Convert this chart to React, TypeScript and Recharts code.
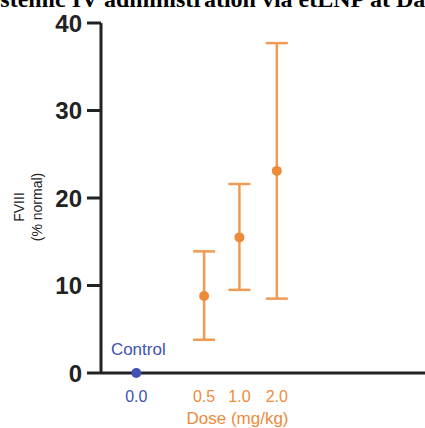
import React from "react";
import {
  ComposedChart,
  Scatter,
  XAxis,
  YAxis,
  ErrorBar,
  LabelList,
  Customized,
} from "recharts";

// Group labels along the dose axis
const doseLabels = ["0.0", "0.5", "1.0", "2.0"];
// FVIII activity, % of normal: group means and error-bar ends
const fviiiMean = [0, 8.8, 15.5, 23.1];
const fviiiLow = [0, 3.8, 9.5, 8.5];
const fviiiHigh = [0, 13.9, 21.6, 37.7];
const yTicks = [0, 10, 20, 30, 40];

// Horizontal slot of each group on the dose axis (control sits apart)
const slots = [1.01, 2.95, 3.96, 5.03];
const X_MAX = 9.27;

const BLUE = "#4052b5";
const ORANGE = "#ed8b3b";
const ORANGE_BAR = "#f09a52";
const INK = "#222222";
const SANS = "'Liberation Sans', Arial, Helvetica, sans-serif";

const controlData = [
  { x: slots[0], y: fviiiMean[0], name: "Control" },
];
const doseData = doseLabels.slice(1).map((_, i) => ({
  x: slots[i + 1],
  y: fviiiMean[i + 1],
  err: [fviiiMean[i + 1] - fviiiLow[i + 1], fviiiHigh[i + 1] - fviiiMean[i + 1]],
}));

const DoseTick = (props: any) => {
  const { x, y, payload } = props;
  const idx = slots.indexOf(payload.value);
  if (idx < 0) return null;
  return (
    <text
      x={x}
      y={y}
      dy={21}
      textAnchor="middle"
      fontFamily={SANS}
      fontSize={16}
      fill={idx === 0 ? BLUE : ORANGE}
    >
      {doseLabels[idx]}
    </text>
  );
};

const Dot = (color: string) => (props: any) => (
  <circle cx={props.cx} cy={props.cy} r={5} fill={color} />
);

const Decorations = () => (
  <g>
    <text
      x={-25}
      y={7}
      fontFamily="'Liberation Serif', 'Times New Roman', serif"
      fontWeight="bold"
      fontSize={24}
      fill="#000"
    >
      Systemic IV administration via etLNP at Day
    </text>
    <g fontFamily={SANS} fontSize={14} fill={INK} textAnchor="middle">
      <text x={24} y={207} transform="rotate(-90 24 207)">
        FVIII
      </text>
      <text x={42} y={207} transform="rotate(-90 42 207)">
        (% normal)
      </text>
    </g>
    <text
      x={237.5}
      y={424}
      textAnchor="middle"
      fontFamily={SANS}
      fontSize={17}
      fill={ORANGE}
    >
      Dose (mg/kg)
    </text>
  </g>
);

export default function App() {
  return (
    <div
      style={{
        position: "absolute",
        left: 0,
        top: 0,
        width: 425,
        height: 428,
        overflow: "hidden",
        background: "#fff",
      }}
    >
      <ComposedChart
        width={425}
        height={428}
        margin={{ top: 23, right: 0, bottom: 0, left: 0 }}
      >
        <XAxis
          type="number"
          dataKey="x"
          domain={[0, X_MAX]}
          ticks={slots}
          interval={0}
          height={55}
          tickLine={false}
          axisLine={{ stroke: INK, strokeWidth: 3 }}
          tick={<DoseTick />}
          allowDataOverflow
        />
        <YAxis
          type="number"
          dataKey="y"
          domain={[0, 40]}
          ticks={yTicks}
          width={101}
          tickSize={14}
          tickMargin={5}
          axisLine={{ stroke: INK, strokeWidth: 3 }}
          tickLine={{ stroke: INK, strokeWidth: 3 }}
          tick={{
            fill: INK,
            fontFamily: SANS,
            fontWeight: "bold",
            fontSize: 24,
          }}
        />
        <Scatter
          data={doseData}
          dataKey="y"
          fill={ORANGE}
          shape={Dot(ORANGE)}
          isAnimationActive={false}
        >
          <ErrorBar
            dataKey="err"
            direction="y"
            width={11}
            strokeWidth={2.5}
            stroke={ORANGE_BAR}
            isAnimationActive={false}
          />
        </Scatter>
        <Scatter
          data={controlData}
          dataKey="y"
          fill={BLUE}
          shape={Dot(BLUE)}
          isAnimationActive={false}
        >
          <LabelList
            dataKey="name"
            content={(p: any) => (
              <text
                x={p.x + p.width / 2 + 2}
                y={p.y + p.height / 2 - 18}
                textAnchor="middle"
                fontFamily={SANS}
                fontSize={17}
                fill={BLUE}
              >
                {p.value}
              </text>
            )}
          />
        </Scatter>
        <Customized component={Decorations} />
      </ComposedChart>
    </div>
  );
}
